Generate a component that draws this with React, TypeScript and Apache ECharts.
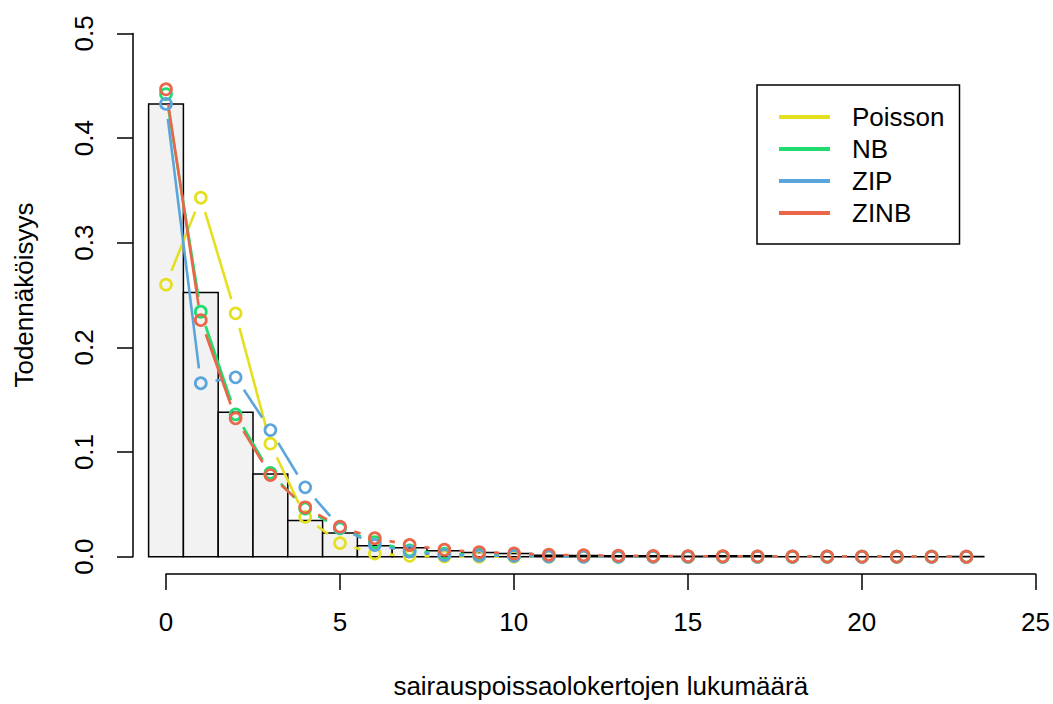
import React, { useEffect, useRef } from "react";
import * as echarts from "echarts";

const counts: number[] = [0, 1, 2, 3, 4, 5, 6, 7, 8, 9, 10, 11, 12, 13, 14, 15, 16, 17, 18, 19, 20, 21, 22, 23];
const observed: number[] = [0.4326, 0.2524, 0.138, 0.079, 0.0347, 0.0227, 0.0105, 0.0086, 0.0057, 0.004, 0.003, 0.0015, 0.0012, 0.0008, 0.001, 0.0005, 0.001, 0.001, 0, 0, 0, 0, 0, 0.0003];
const poisson: number[] = [0.26, 0.343, 0.2325, 0.108, 0.038, 0.013, 0.003, 0.0008, 0.0002, 0, 0, 0, 0, 0, 0, 0, 0, 0, 0, 0, 0, 0, 0, 0];
const nb: number[] = [0.442, 0.234, 0.136, 0.08, 0.046, 0.027, 0.014, 0.006, 0.003, 0.002, 0.001, 0.0006, 0.0004, 0.0002, 0.0001, 0, 0, 0, 0, 0, 0, 0, 0, 0];
const zip: number[] = [0.4326, 0.1657, 0.1714, 0.121, 0.0663, 0.028, 0.0112, 0.0048, 0.0015, 0.001, 0.0008, 0.0002, 0, 0, 0, 0, 0, 0, 0, 0, 0, 0, 0, 0];
const zinb: number[] = [0.4466, 0.226, 0.1322, 0.078, 0.0472, 0.0287, 0.0176, 0.0112, 0.0066, 0.0043, 0.0031, 0.0019, 0.0014, 0.001, 0.0007, 0.0005, 0.0004, 0.0003, 0.0002, 0.0002, 0.0001, 0.0001, 0.0001, 0];

const modelNames: string[] = ["Poisson", "NB", "ZIP", "ZINB"];
const modelValues: number[][] = [poisson, nb, zip, zinb];
const modelColors: string[] = ["#E5E01F", "#1FDC6E", "#5AA5DC", "#EB6549"];
const xTicks: number[] = [0, 5, 10, 15, 20, 25];
const yTicks: number[] = [0, 0.1, 0.2, 0.3, 0.4, 0.5];

const FONT = "'Liberation Sans', Arial, sans-serif";
const GAP = 15;

export default function App() {
  const ref = useRef<HTMLDivElement>(null);
  useEffect(() => {
    if (!ref.current) return;
    const chart = echarts.init(ref.current, undefined, { renderer: "svg" });

    const series: any[] = [];
    series.push({
      type: "custom",
      name: "observed",
      xAxisIndex: 0,
      yAxisIndex: 0,
      silent: true,
      encode: { x: 0, y: 1 },
      data: counts.map((c, i) => [c, observed[i]]),
      renderItem: (params: any, api: any) => {
        const x = api.value(0);
        const v = api.value(1);
        const a = api.coord([x - 0.5, v]);
        const b = api.coord([x + 0.5, 0]);
        return {
          type: "rect",
          shape: { x: a[0], y: a[1], width: b[0] - a[0], height: b[1] - a[1] },
          style: { fill: "#F2F2F2", stroke: "#000", lineWidth: 1.5 },
        };
      },
    });

    modelNames.forEach((name, m) => {
      const vals = modelValues[m];
      const color = modelColors[m];
      const segs: number[][] = [];
      for (let i = 0; i < counts.length - 1; i++) {
        segs.push([counts[i], vals[i], counts[i + 1], vals[i + 1]]);
      }
      series.push({
        type: "custom",
        name,
        xAxisIndex: 0,
        yAxisIndex: 0,
        silent: true,
        itemStyle: { color },
        encode: { x: [0, 2], y: [1, 3] },
        data: segs,
        renderItem: (params: any, api: any) => {
          const p0 = api.coord([api.value(0), api.value(1)]);
          const p1 = api.coord([api.value(2), api.value(3)]);
          const dx = p1[0] - p0[0];
          const dy = p1[1] - p0[1];
          const d = Math.sqrt(dx * dx + dy * dy);
          if (d <= 2 * GAP) return { type: "group", children: [] };
          const ux = dx / d;
          const uy = dy / d;
          return {
            type: "line",
            shape: {
              x1: p0[0] + ux * GAP,
              y1: p0[1] + uy * GAP,
              x2: p1[0] - ux * GAP,
              y2: p1[1] - uy * GAP,
            },
            style: { stroke: color, lineWidth: 2.6 },
          };
        },
      });
      series.push({
        type: "scatter",
        name,
        xAxisIndex: 0,
        yAxisIndex: 0,
        silent: true,
        symbol: "circle",
        symbolSize: 11,
        itemStyle: { color: "rgba(0,0,0,0)", borderColor: color, borderWidth: 2.7, opacity: 1 },
        data: counts.map((c, i) => [c, vals[i]]),
      });
    });

    const option: any = {
      animation: false,
      backgroundColor: "#fff",
      textStyle: { fontFamily: FONT },
      grid: [
        { left: 133, right: 17, top: 33.4, bottom: 147.3 },
        { left: 166, right: 17, top: 33.4, bottom: 126 },
      ],
      xAxis: [
        { type: "value", gridIndex: 0, min: -33 / 34.8, max: 25, show: false },
        {
          type: "value",
          gridIndex: 1,
          min: xTicks[0],
          max: xTicks[xTicks.length - 1],
          interval: 5,
          position: "bottom",
          name: "sairauspoissaolokertojen lukumäärä",
          nameLocation: "middle",
          nameGap: 99,
          nameTextStyle: { fontSize: 26, color: "#000", fontFamily: FONT },
          axisLine: { show: true, onZero: false, lineStyle: { color: "#000", width: 1.5 } },
          axisTick: { show: true, inside: false, length: 16, lineStyle: { color: "#000", width: 1.5 } },
          axisLabel: { show: true, fontSize: 26, color: "#000", margin: 35, fontFamily: FONT },
          splitLine: { show: false },
        },
      ],
      yAxis: [
        {
          type: "value",
          gridIndex: 0,
          min: yTicks[0],
          max: yTicks[yTicks.length - 1],
          interval: 0.1,
          name: "Todennäköisyys",
          nameLocation: "middle",
          nameGap: 96,
          nameRotate: 90,
          nameTextStyle: { fontSize: 26, color: "#000", fontFamily: FONT },
          axisLine: { show: true, onZero: false, lineStyle: { color: "#000", width: 1.5 } },
          axisTick: { show: true, inside: false, length: 16, lineStyle: { color: "#000", width: 1.5 } },
          axisLabel: {
            show: true,
            rotate: 90,
            fontSize: 26,
            color: "#000",
            margin: 36,
            fontFamily: FONT,
            formatter: (v: number) => v.toFixed(1),
          },
          splitLine: { show: false },
        },
        { type: "value", gridIndex: 1, min: 0, max: 1, show: false },
      ],
      legend: {
        show: true,
        orient: "vertical",
        left: 757,
        top: 85,
        padding: [19, 15, 18, 22],
        itemWidth: 51,
        itemHeight: 4,
        itemGap: 6,
        borderColor: "#000",
        borderWidth: 1.5,
        borderRadius: 0,
        backgroundColor: "#fff",
        selectedMode: false,
        textStyle: { fontSize: 26, color: "#000", fontFamily: FONT, padding: [0, 0, 0, 17] },
        data: modelNames.map((n, i) => ({
          name: n,
          icon: "rect",
          itemStyle: { color: modelColors[i], borderWidth: 0, opacity: 1 },
        })),
      },
      series,
    };
    chart.setOption(option);
    return () => chart.dispose();
  }, []);
  return (
    <div
      ref={ref}
      style={{ position: "fixed", left: 0, top: 0, width: 1053, height: 704, background: "#fff" }}
    />
  );
}
